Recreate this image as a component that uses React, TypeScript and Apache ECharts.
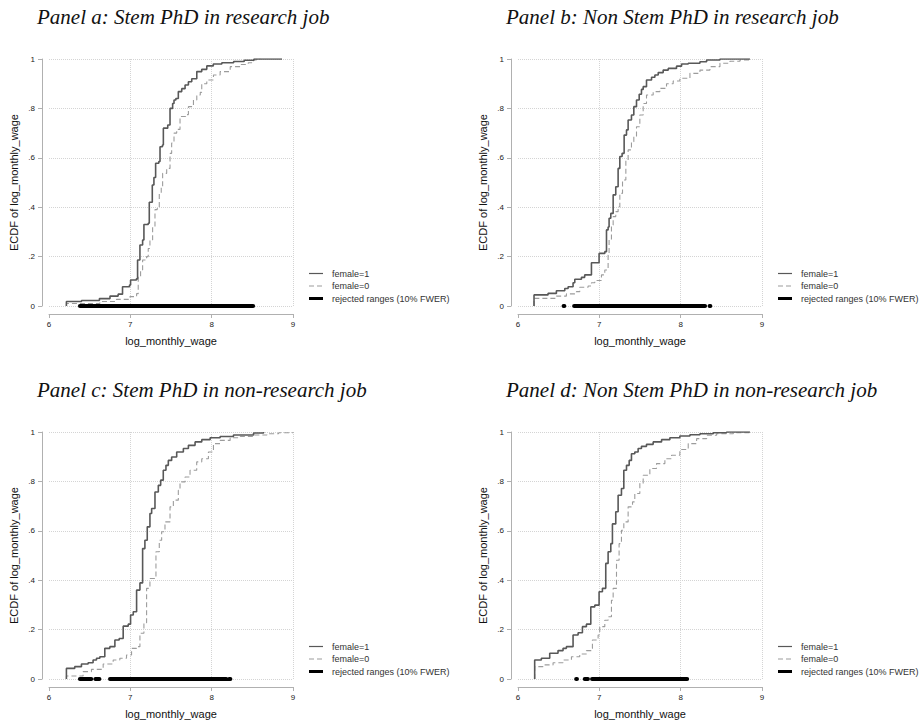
import React, { useEffect, useRef } from "react";
import * as echarts from "echarts";

// ---------- data ----------
const panelTitles = [
  "Panel a: Stem PhD in research job",
  "Panel b: Non Stem PhD in research job",
  "Panel c: Stem PhD in non-research job",
  "Panel d: Non Stem PhD in non-research job",
];

const seriesNames = ["female=1", "female=0", "rejected ranges (10% FWER)"];
const xTicks = [6, 7, 8, 9];
const yTicks = [0, 0.2, 0.4, 0.6, 0.8, 1];

// ECDF step points: [x, F(x)] (value jumps to F at x)
const aFemale1 = [[6.214,0],[6.214,0.018],[6.40,0.022],[6.62,0.03],[6.75,0.04],[6.85,0.048],[6.904,0.078],[6.99,0.085],[7.003,0.105],[7.075,0.11],[7.089,0.186],[7.118,0.247],[7.151,0.267],[7.167,0.33],[7.22,0.335],[7.233,0.42],[7.27,0.49],[7.29,0.52],[7.311,0.578],[7.35,0.585],[7.365,0.645],[7.395,0.652],[7.406,0.72],[7.46,0.733],[7.488,0.80],[7.52,0.82],[7.537,0.834],[7.56,0.84],[7.59,0.868],[7.632,0.88],[7.673,0.895],[7.714,0.908],[7.755,0.92],[7.817,0.949],[7.878,0.958],[7.94,0.972],[8.02,0.98],[8.125,0.985],[8.27,0.99],[8.4,0.995],[8.52,1.0],[8.865,1.0]];
const aFemale0 = [[6.214,0],[6.214,0.01],[6.625,0.018],[6.83,0.027],[6.995,0.038],[7.077,0.05],[7.097,0.12],[7.126,0.146],[7.151,0.186],[7.2,0.2],[7.22,0.233],[7.241,0.267],[7.274,0.32],[7.303,0.39],[7.33,0.395],[7.356,0.456],[7.38,0.48],[7.397,0.537],[7.447,0.557],[7.488,0.618],[7.508,0.66],[7.537,0.70],[7.57,0.715],[7.611,0.767],[7.68,0.775],[7.714,0.807],[7.776,0.834],[7.817,0.854],[7.86,0.865],[7.878,0.9],[7.94,0.915],[8.022,0.935],[8.104,0.949],[8.228,0.969],[8.35,0.978],[8.45,0.985],[8.515,0.996],[8.55,1.0],[8.6,1.0]];
const aRejected = [[6.38, 8.51]];

const bFemale1 = [[6.197,0],[6.197,0.045],[6.369,0.051],[6.472,0.062],[6.575,0.071],[6.616,0.078],[6.677,0.094],[6.698,0.108],[6.78,0.116],[6.82,0.126],[6.903,0.175],[6.997,0.213],[7.067,0.22],[7.088,0.308],[7.108,0.32],[7.12,0.355],[7.141,0.375],[7.17,0.45],[7.202,0.483],[7.231,0.557],[7.252,0.605],[7.28,0.618],[7.305,0.692],[7.334,0.713],[7.354,0.753],[7.395,0.773],[7.424,0.807],[7.457,0.834],[7.49,0.857],[7.518,0.877],[7.539,0.888],[7.58,0.915],[7.642,0.926],[7.683,0.935],[7.724,0.945],[7.785,0.955],[7.847,0.962],[7.949,0.971],[8.011,0.98],[8.093,0.983],[8.237,0.989],[8.319,0.996],[8.483,1.0],[8.852,1.0]];
const bFemale0 = [[6.197,0],[6.197,0.031],[6.472,0.04],[6.595,0.049],[6.718,0.058],[6.759,0.076],[6.862,0.081],[6.903,0.094],[6.944,0.103],[7.026,0.126],[7.067,0.146],[7.108,0.206],[7.12,0.267],[7.149,0.328],[7.17,0.362],[7.202,0.382],[7.231,0.402],[7.252,0.456],[7.285,0.51],[7.326,0.59],[7.354,0.632],[7.395,0.665],[7.424,0.686],[7.457,0.726],[7.498,0.773],[7.539,0.82],[7.58,0.854],[7.662,0.868],[7.744,0.881],[7.826,0.9],[7.908,0.911],[7.99,0.922],[8.114,0.942],[8.237,0.955],[8.36,0.969],[8.483,0.983],[8.606,0.991],[8.729,0.996],[8.852,1.0]];
const bRejected = [[6.56, 6.57], [6.69, 8.30], [8.355, 8.365]];

const cFemale1 = [[6.214,0],[6.214,0.043],[6.316,0.05],[6.399,0.061],[6.481,0.066],[6.542,0.077],[6.584,0.084],[6.625,0.09],[6.686,0.124],[6.748,0.131],[6.81,0.158],[6.863,0.164],[6.912,0.214],[6.974,0.222],[7.003,0.259],[7.036,0.272],[7.077,0.36],[7.118,0.389],[7.151,0.528],[7.179,0.562],[7.208,0.616],[7.241,0.67],[7.262,0.69],[7.303,0.757],[7.344,0.784],[7.373,0.805],[7.405,0.845],[7.438,0.865],[7.467,0.885],[7.508,0.899],[7.57,0.919],[7.652,0.933],[7.714,0.946],[7.796,0.96],[7.878,0.969],[7.981,0.977],[8.104,0.982],[8.268,0.988],[8.515,0.996],[8.638,1.0]];
const cFemale0 = [[6.214,0],[6.214,0.012],[6.419,0.03],[6.522,0.039],[6.666,0.061],[6.789,0.077],[6.871,0.084],[6.953,0.097],[7.015,0.124],[7.077,0.131],[7.118,0.185],[7.167,0.228],[7.2,0.367],[7.241,0.407],[7.315,0.515],[7.356,0.562],[7.385,0.596],[7.426,0.636],[7.488,0.697],[7.529,0.724],[7.59,0.764],[7.611,0.798],[7.673,0.818],[7.734,0.845],[7.816,0.879],[7.878,0.892],[7.96,0.919],[8.022,0.953],[8.104,0.966],[8.227,0.977],[8.351,0.982],[8.515,0.988],[8.679,0.993],[8.823,0.997],[9.0,1.0]];
const cRejected = [[6.38, 6.52], [6.57, 6.62], [6.75, 8.18], [8.215, 8.23]];

const dFemale1 = [[6.205,0],[6.205,0.077],[6.287,0.084],[6.39,0.104],[6.492,0.115],[6.554,0.124],[6.595,0.131],[6.677,0.178],[6.739,0.187],[6.792,0.212],[6.841,0.222],[6.895,0.292],[6.944,0.299],[6.997,0.353],[7.038,0.367],[7.079,0.468],[7.108,0.515],[7.141,0.548],[7.161,0.628],[7.202,0.677],[7.231,0.744],[7.272,0.771],[7.301,0.845],[7.334,0.865],[7.367,0.885],[7.395,0.912],[7.436,0.919],[7.477,0.933],[7.518,0.942],[7.58,0.95],[7.662,0.96],[7.765,0.969],[7.867,0.977],[7.99,0.984],[8.114,0.989],[8.237,0.993],[8.401,0.997],[8.565,1.0],[8.852,1.0]];
const dFemale0 = [[6.205,0],[6.205,0.05],[6.308,0.057],[6.431,0.066],[6.554,0.077],[6.657,0.09],[6.759,0.101],[6.841,0.115],[6.903,0.124],[6.915,0.158],[6.985,0.178],[7.005,0.212],[7.067,0.238],[7.108,0.252],[7.149,0.319],[7.17,0.367],[7.211,0.481],[7.243,0.548],[7.272,0.602],[7.301,0.636],[7.354,0.697],[7.408,0.717],[7.436,0.751],[7.498,0.791],[7.539,0.825],[7.621,0.852],[7.703,0.872],[7.806,0.892],[7.888,0.906],[7.99,0.929],[8.093,0.953],[8.196,0.973],[8.319,0.987],[8.442,0.993],[8.647,0.997],[8.852,1.0]];
const dRejected = [[6.715, 6.725], [6.82, 6.86], [6.91, 8.08]];

const panelFemale1 = [aFemale1, bFemale1, cFemale1, dFemale1];
const panelFemale0 = [aFemale0, bFemale0, cFemale0, dFemale0];
const panelRejected = [aRejected, bRejected, cRejected, dRejected];

// ---------- layout ----------
const gridBoxes = [
  { left: 49, top: 59 },
  { left: 518, top: 59 },
  { left: 49, top: 432 },
  { left: 518, top: 432 },
];
const GRID_W = 244;
const GRID_H = 247;

const SANS = "Liberation Sans, Arial, Helvetica, sans-serif";
const SERIF = "Liberation Serif, Times New Roman, serif";

const C_F1 = "#585858";
const C_F0 = "#9c9c9c";
const C_REJ = "#000000";

function rejectedData(ranges: number[][]) {
  const out: any[] = [];
  ranges.forEach(([a, b], i) => {
    if (i > 0) out.push([(a + ranges[i - 1][1]) / 2, "-"]);
    out.push([a, 0]);
    out.push([b, 0]);
  });
  return out;
}

function yFmt(v: number) {
  if (Math.abs(v) < 1e-9) return "0";
  if (Math.abs(v - 1) < 1e-9) return "1";
  return (Math.round(v * 10) / 10).toString().replace(/^0/, "");
}

function legendGraphic(g: { left: number; top: number }) {
  const textX = g.left + GRID_W + 39;
  const baseY = g.top + GRID_H - 32.5;
  const rowGap = 12.5;
  const styles = [
    { stroke: C_F1, lineWidth: 1.2 },
    { stroke: C_F0, lineWidth: 1.1, lineDash: [5, 3] },
    { stroke: C_REJ, lineWidth: 3 },
  ];
  const children: any[] = [];
  seriesNames.forEach((name, k) => {
    const y = baseY + k * rowGap;
    children.push({
      type: "line",
      shape: { x1: textX - 23, y1: y, x2: textX - 9, y2: y },
      style: styles[k],
      silent: true,
    });
    children.push({
      type: "text",
      x: textX,
      y,
      style: {
        text: name,
        fontFamily: SANS,
        fontSize: 9,
        fill: "#333",
        verticalAlign: "middle",
        align: "left",
      },
      silent: true,
    });
  });
  return { type: "group", children };
}

export default function App() {
  const ref = useRef<HTMLDivElement>(null);

  useEffect(() => {
    if (!ref.current) return;
    const chart = echarts.init(ref.current, undefined, { renderer: "svg" });

    const grids = gridBoxes.map((g) => ({
      left: g.left,
      top: g.top,
      width: GRID_W,
      height: GRID_H,
      containLabel: false,
    }));

    const xAxes = gridBoxes.map((_, i) => ({
      type: "value",
      gridIndex: i,
      min: xTicks[0],
      max: xTicks[xTicks.length - 1],
      interval: 1,
      offset: 8,
      name: "log_monthly_wage",
      nameLocation: "middle",
      nameGap: 21,
      nameTextStyle: { fontFamily: SANS, fontSize: 11, color: "#111" },
      axisLine: { show: true, onZero: false, lineStyle: { color: "#b0b0b0", width: 1 } },
      axisTick: { show: true, length: 4, lineStyle: { color: "#b0b0b0" } },
      axisLabel: { fontFamily: SANS, fontSize: 8, color: "#222", margin: 6 },
      splitLine: {
        show: true,
        showMinLine: false,
        lineStyle: { color: "#d4d4d4", type: "dotted", width: 1 },
      },
    }));

    const yAxes = gridBoxes.map((_, i) => ({
      type: "value",
      gridIndex: i,
      min: yTicks[0],
      max: yTicks[yTicks.length - 1],
      interval: 0.2,
      offset: 7,
      name: "ECDF of log_monthly_wage",
      nameLocation: "middle",
      nameGap: 23,
      nameTextStyle: { fontFamily: SANS, fontSize: 11, color: "#111" },
      axisLine: { show: true, onZero: false, lineStyle: { color: "#b0b0b0", width: 1 } },
      axisTick: { show: true, length: 4, lineStyle: { color: "#b0b0b0" } },
      axisLabel: { fontFamily: SANS, fontSize: 8, color: "#222", margin: 7, formatter: yFmt },
      splitLine: { show: true, lineStyle: { color: "#d4d4d4", type: "dotted", width: 1 } },
    }));

    const series: any[] = [];
    gridBoxes.forEach((_, i) => {
      series.push({
        name: seriesNames[1],
        type: "line",
        xAxisIndex: i,
        yAxisIndex: i,
        step: "end",
        symbol: "none",
        data: panelFemale0[i],
        lineStyle: { color: C_F0, width: 1.1, type: [5, 3] },
        itemStyle: { color: C_F0 },
        z: 2,
      });
      series.push({
        name: seriesNames[0],
        type: "line",
        xAxisIndex: i,
        yAxisIndex: i,
        step: "end",
        symbol: "none",
        data: panelFemale1[i],
        lineStyle: { color: C_F1, width: 1.6 },
        itemStyle: { color: C_F1 },
        z: 3,
      });
      series.push({
        name: seriesNames[2],
        type: "line",
        xAxisIndex: i,
        yAxisIndex: i,
        symbol: "none",
        connectNulls: false,
        data: rejectedData(panelRejected[i]),
        lineStyle: { color: C_REJ, width: 4, cap: "round" },
        itemStyle: { color: C_REJ },
        z: 4,
      });
    });

    const titles = panelTitles.map((t, i) => ({
      text: t,
      left: gridBoxes[i].left - 12,
      top: gridBoxes[i].top - 53,
      padding: 0,
      textStyle: {
        fontFamily: SERIF,
        fontStyle: "italic",
        fontWeight: "normal",
        fontSize: 21,
        color: "#111",
      },
    }));

    chart.setOption({
      animation: false,
      backgroundColor: "#ffffff",
      title: titles,
      grid: grids,
      xAxis: xAxes,
      yAxis: yAxes,
      series,
      graphic: gridBoxes.map((g) => legendGraphic(g)),
    });

    return () => chart.dispose();
  }, []);

  return (
    <div
      ref={ref}
      style={{ position: "absolute", left: 0, top: 0, width: 924, height: 721 }}
    />
  );
}
